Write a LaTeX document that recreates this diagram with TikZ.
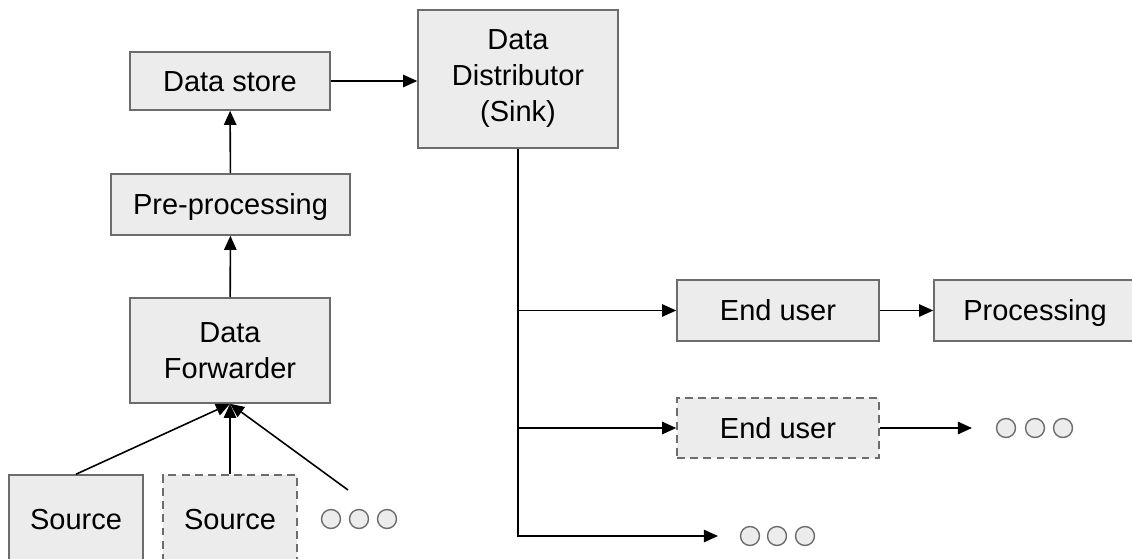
\documentclass[tikz,border=0pt]{standalone}
\usepackage{fontspec}
\setmainfont{Liberation Sans}
\usetikzlibrary{arrows.meta}

\begin{document}
\begin{tikzpicture}[x=0.02cm,y=-0.02cm,>={Triangle[length=8pt,width=7pt]},link/.style={->, line width=0.9pt},box/.style={draw=gray!85!black, fill=gray!15, line width=0.9pt, align=center, inner sep=0pt, font=\fontsize{16.5}{20.5}\selectfont},oneline/.style={text height=11.8pt, text depth=0pt},ghost/.style={box, dashed, dash pattern=on 4.5pt off 3pt},dot/.style={draw=gray!85!black, fill=gray!15, line width=0.8pt}]
\useasboundingbox (0,0) rectangle (1132,558); \clip (0,0) rectangle (1132,558);
% left column: sources up to the store
\node[box, oneline, minimum width=4cm, minimum height=1.16cm] (store) at (230,81) {Data store};
\node[box, oneline, minimum width=4.78cm, minimum height=1.22cm] (pre) at (230.5,204.5) {Pre-processing};
\node[box, minimum width=4cm, minimum height=2.1cm] (fwd) at (230,350.5) {Data\\Forwarder};
\node[box, oneline, minimum width=2.68cm, minimum height=1.76cm] (src1) at (76,519) {Source};
\node[ghost, oneline, minimum width=2.68cm, minimum height=1.76cm] (src2) at (230,519) {Source};
\coordinate (more) at (348,490);
\foreach \x in {331,359,387} \draw[dot] (\x,519) circle (0.19cm);
% right side: distributor and its users
\node[box, minimum width=4cm, minimum height=2.76cm] (dist) at (518,79) {Data\\Distributor\\(Sink)};
\node[box, oneline, minimum width=4.04cm, minimum height=1.22cm] (eu1) at (778,310.5) {End user};
\node[box, oneline, minimum width=4.04cm, minimum height=1.22cm] (proc) at (1035,310.5) {Processing};
\node[ghost, oneline, minimum width=4.04cm, minimum height=1.2cm] (eu2) at (778,428) {End user};
\coordinate (out2) at (972,428); \coordinate (out3) at (718,536);
\foreach \x in {1006,1035,1063} \draw[dot] (\x,428) circle (0.19cm);
\foreach \x in {750,777,805} \draw[dot] (\x,536) circle (0.19cm);
% connectors
\draw[link] (src1.north) -- (fwd.south); \draw[link] (src2.north) -- (fwd.south); \draw[link] (more) -- (fwd.south);
\draw[link] (fwd) -- (pre); \draw[link] (pre) -- (store);
\draw[link] (store.east) -- (store.east -| dist.west);
\draw[link] (dist.south) |- (out3);
\draw[link] (dist.south |- eu1.west) -- (eu1.west); \draw[link] (dist.south |- eu2.west) -- (eu2.west);
\draw[link] (eu1) -- (proc); \draw[link] (eu2.east) -- (out2);
\end{tikzpicture}
\end{document}
